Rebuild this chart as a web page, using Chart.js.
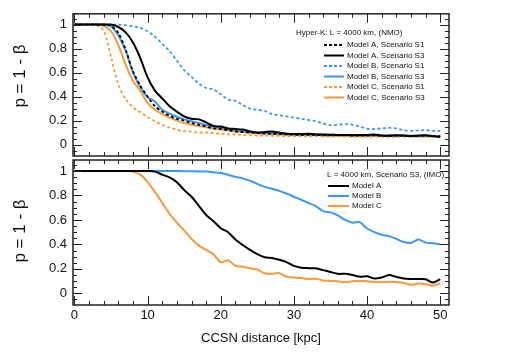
<!DOCTYPE html>
<html>
<head>
<meta charset="utf-8">
<script src="https://cdn.jsdelivr.net/npm/chart.js@4"></script>
<style>
  body { margin: 0; background: #fff; }
  #wrap { position: relative; width: 512px; height: 354px; }
  canvas { position: absolute; left: 0; top: 0; }
</style>
</head>
<body>
<div id="wrap">
  <canvas id="topChart" width="512" height="354"></canvas>
  <canvas id="bottomChart" width="512" height="354"></canvas>
</div>
<script>
// CCSN distance in kpc
const dist = [0,1,2,3,4,5,6,7,8,9,10,11,12,13,14,15,16,17,18,19,20,21,22,23,24,25,26,27,28,29,30,
  31,32,33,34,35,36,37,38,39,40,41,42,43,44,45,46,47,48,49,50];

// top panel: Hyper-K, L = 4000 km, NMO
const modelA_S1 = [1,1,1,1,1,0.99,0.93,0.79,0.61,0.49,0.4,0.32,0.275,0.24,0.215,0.2,0.18,0.165,0.15,0.135,
  0.13,0.12,0.11,0.105,0.1,0.095,0.092,0.09,0.088,0.085,0.082,0.08,0.082,0.08,0.078,0.078,0.076,0.078,0.075,0.075,
  0.076,0.078,0.074,0.072,0.075,0.074,0.072,0.073,0.075,0.072,0.07];
const modelA_S3 = [1,1,1,1,1,1,0.98,0.935,0.85,0.72,0.56,0.45,0.385,0.32,0.275,0.235,0.215,0.21,0.185,0.155,
  0.15,0.135,0.13,0.125,0.11,0.1,0.105,0.11,0.1,0.09,0.088,0.088,0.09,0.085,0.085,0.083,0.08,0.08,0.078,0.08,
  0.08,0.085,0.075,0.075,0.078,0.075,0.072,0.075,0.078,0.07,0.063];
const modelB_S1 = [1,1,1,1,1,1,1,0.995,0.985,0.973,0.945,0.9,0.84,0.78,0.7,0.62,0.565,0.51,0.472,0.46,
  0.42,0.375,0.365,0.33,0.3,0.29,0.28,0.255,0.245,0.235,0.225,0.215,0.205,0.195,0.175,0.163,0.165,0.172,0.165,0.15,
  0.132,0.13,0.135,0.14,0.135,0.12,0.115,0.118,0.12,0.115,0.112];
const modelB_S3 = [1,1,1,1,1,0.985,0.91,0.78,0.6,0.48,0.395,0.36,0.29,0.258,0.232,0.21,0.195,0.18,0.165,0.15,
  0.14,0.13,0.12,0.112,0.105,0.1,0.097,0.095,0.092,0.09,0.088,0.086,0.085,0.085,0.083,0.082,0.08,0.08,0.08,0.078,
  0.078,0.077,0.076,0.076,0.075,0.075,0.074,0.074,0.073,0.072,0.072];
const modelC_S1 = [1,1,1,0.995,0.95,0.73,0.5,0.38,0.31,0.27,0.23,0.195,0.165,0.142,0.125,0.112,0.108,0.1,0.1,0.095,
  0.09,0.085,0.085,0.08,0.078,0.076,0.075,0.072,0.072,0.07,0.07,0.07,0.068,0.07,0.068,0.066,0.068,0.067,0.065,0.066,
  0.064,0.066,0.065,0.065,0.066,0.064,0.065,0.064,0.066,0.064,0.063];
const modelC_S3 = [1,1,1,1,0.99,0.945,0.83,0.665,0.53,0.45,0.345,0.29,0.255,0.225,0.2,0.18,0.165,0.155,0.145,0.135,
  0.125,0.12,0.11,0.105,0.1,0.095,0.092,0.09,0.085,0.085,0.082,0.082,0.08,0.08,0.078,0.078,0.076,0.075,0.075,0.074,
  0.072,0.073,0.072,0.072,0.07,0.072,0.07,0.07,0.068,0.07,0.068];

// bottom panel: L = 4000 km, Scenario S3, IMO
const imoA = [1,1,1,1,1,1,1,1,1,1,1,0.995,0.97,0.948,0.909,0.845,0.79,0.716,0.64,0.59,
  0.532,0.5,0.44,0.395,0.355,0.32,0.295,0.29,0.275,0.255,0.225,0.21,0.206,0.205,0.19,0.175,0.16,0.16,0.15,0.137,
  0.14,0.122,0.13,0.15,0.135,0.122,0.118,0.117,0.115,0.088,0.116];
const imoB = [1,1,1,1,1,1,1,1,1,1,1,1,1,1,1,0.999,0.998,0.997,0.996,0.99,
  0.983,0.97,0.952,0.94,0.92,0.895,0.87,0.855,0.838,0.815,0.79,0.765,0.738,0.713,0.672,0.662,0.638,0.6,0.578,0.582,
  0.53,0.5,0.478,0.468,0.445,0.42,0.412,0.44,0.415,0.41,0.4];
const imoC = [1,1,1,1,1,1,1,1,0.995,0.97,0.91,0.83,0.74,0.65,0.578,0.515,0.445,0.39,0.355,0.32,
  0.255,0.27,0.226,0.218,0.205,0.195,0.165,0.16,0.165,0.135,0.13,0.125,0.118,0.12,0.106,0.102,0.1,0.09,0.1,0.1,
  0.1,0.093,0.09,0.095,0.092,0.085,0.07,0.08,0.075,0.062,0.083];

const xTicks = [0, 10, 20, 30, 40, 50];
const yTicks = [0, 0.2, 0.4, 0.6, 0.8, 1];
const yLabels = ['0', '0.2', '0.4', '0.6', '0.8', '1'];

const BLACK = '#000000';
const BLUE = '#3c96f5';
const ORANGE = '#fb9838';
const FONT = 'Liberation Sans, Arial, Helvetica, sans-serif';

function pts(arr) {
  return dist.map((d, i) => ({x: d, y: arr[i]}));
}

function line(label, arr, color, dash) {
  return {
    label: label,
    data: pts(arr),
    borderColor: color,
    backgroundColor: color,
    borderWidth: dash ? 1.8 : 2,
    borderDash: dash || [],
    pointRadius: 0,
    tension: 0.3,
    fill: false
  };
}

// frame with inward ticks on all four sides, plus the rotated y title
const framePlugin = {
  id: 'frame',
  afterDraw(chart, args, opts) {
    const {ctx, chartArea: a} = chart;
    const x = chart.scales.x, y = chart.scales.y;
    ctx.save();
    ctx.strokeStyle = '#222';
    ctx.lineWidth = 1.5;
    ctx.strokeRect(a.left, a.top, a.right - a.left, a.bottom - a.top);
    ctx.lineWidth = 1;
    ctx.beginPath();
    for (let v = 0; v <= 50; v += 2) {
      let px = Math.round(x.getPixelForValue(v)) + 0.5;
      let len = v % 10 === 0 ? 9 : 4;
      ctx.moveTo(px, a.top); ctx.lineTo(px, a.top + len);
      ctx.moveTo(px, a.bottom); ctx.lineTo(px, a.bottom - len);
    }
    for (let k = -1; k <= 21; k++) {
      let py = Math.round(y.getPixelForValue(k * 0.05)) + 0.5;
      let len = k % 4 === 0 ? 9 : 4;
      ctx.moveTo(a.left, py); ctx.lineTo(a.left + len, py);
      ctx.moveTo(a.right, py); ctx.lineTo(a.right - len, py);
    }
    ctx.stroke();

    ctx.translate(opts.titleX, opts.titleY);
    ctx.rotate(-Math.PI / 2);
    ctx.font = '17px ' + FONT;
    ctx.fillStyle = '#111';
    ctx.textAlign = 'center';
    ctx.textBaseline = 'middle';
    ctx.fillText('p = 1 - \u03B2', 0, 0);
    ctx.restore();
  }
};

// legend box in the upper right of a panel
const legendPlugin = {
  id: 'boxLegend',
  afterDraw(chart, args, opts) {
    const ctx = chart.ctx;
    ctx.save();
    ctx.font = '8px ' + FONT;
    ctx.fillStyle = '#111';
    ctx.textBaseline = 'middle';
    ctx.textAlign = 'left';
    ctx.fillText(opts.title, opts.titleX, opts.titleY);
    chart.data.datasets.forEach((ds, i) => {
      let yy = opts.rowY + i * opts.rowH;
      ctx.strokeStyle = ds.borderColor;
      ctx.lineWidth = 2;
      ctx.setLineDash(ds.borderDash.length ? [3, 2] : []);
      ctx.beginPath();
      ctx.moveTo(opts.lineX, yy);
      ctx.lineTo(opts.lineX + opts.lineW, yy);
      ctx.stroke();
      ctx.setLineDash([]);
      ctx.fillText(ds.label, opts.textX, yy);
    });
    ctx.restore();
  }
};

function xScale(show) {
  return {
    type: 'linear',
    min: -0.2,
    max: 51.2,
    display: show,
    afterBuildTicks: s => { s.ticks = xTicks.map(v => ({value: v})); },
    afterFit: s => { if (show) s.height = 49; },
    grid: {display: false, drawTicks: false},
    border: {display: false},
    ticks: {padding: 3, color: '#111', font: {family: FONT, size: 13}},
    title: {display: show, text: 'CCSN distance [kpc]', color: '#111',
      font: {family: FONT, size: 13}, padding: {top: 0, bottom: 8}}
  };
}

function yScale() {
  return {
    type: 'linear',
    min: -0.095,
    max: 1.09,
    afterBuildTicks: s => { s.ticks = yTicks.map(v => ({value: v})); },
    afterFit: s => { s.width = 73; },
    grid: {display: false, drawTicks: false},
    border: {display: false},
    ticks: {
      padding: 6, color: '#111', font: {family: FONT, size: 13},
      callback: (v, i) => yLabels[i]
    }
  };
}

new Chart(document.getElementById('topChart'), {
  type: 'line',
  data: {
    datasets: [
      line('Model A, Scenario S1', modelA_S1, BLACK, [3, 2.5]),
      line('Model A, Scenario S3', modelA_S3, BLACK),
      line('Model B, Scenario S1', modelB_S1, BLUE, [3, 2.5]),
      line('Model B, Scenario S3', modelB_S3, BLUE),
      line('Model C, Scenario S1', modelC_S1, ORANGE, [3, 2.5]),
      line('Model C, Scenario S3', modelC_S3, ORANGE)
    ]
  },
  options: {
    responsive: false,
    animation: false,
    layout: {padding: {left: 0, top: 11, right: 63, bottom: 198}},
    scales: {x: xScale(false), y: yScale()},
    plugins: {
      legend: {display: false},
      tooltip: {enabled: false},
      frame: {titleX: 20, titleY: 76},
      boxLegend: {title: 'Hyper-K: L = 4000 km, (NMO)', titleX: 296, titleY: 33,
        lineX: 324, lineW: 20, textX: 347, rowY: 45, rowH: 10.5}
    }
  },
  plugins: [framePlugin, legendPlugin]
});

new Chart(document.getElementById('bottomChart'), {
  type: 'line',
  data: {
    datasets: [
      line('Model A', imoA, BLACK),
      line('Model B', imoB, BLUE),
      line('Model C', imoC, ORANGE)
    ]
  },
  options: {
    responsive: false,
    animation: false,
    layout: {padding: {left: 0, top: 160, right: 63, bottom: 0}},
    scales: {x: xScale(true), y: yScale()},
    plugins: {
      legend: {display: false},
      tooltip: {enabled: false},
      frame: {titleX: 20, titleY: 231},
      boxLegend: {title: 'L = 4000 km, Scenario S3, (IMO)', titleX: 327, titleY: 175,
        lineX: 328, lineW: 21, textX: 352, rowY: 186, rowH: 10}
    }
  },
  plugins: [framePlugin, legendPlugin]
});
</script>
</body>
</html>
